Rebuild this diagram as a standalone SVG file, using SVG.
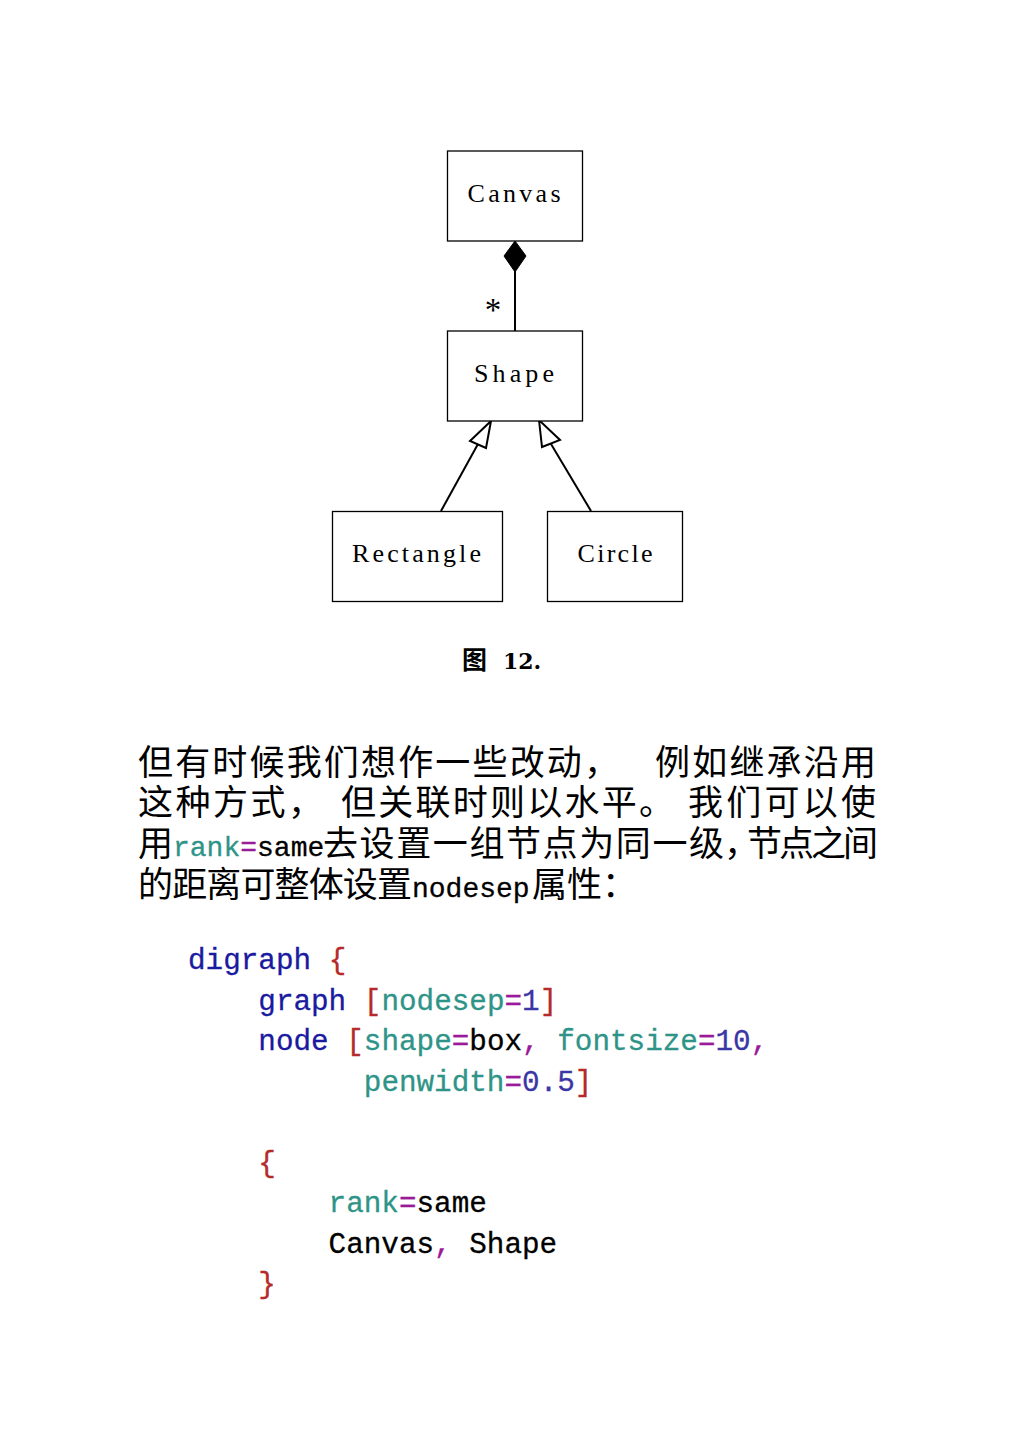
<svg xmlns="http://www.w3.org/2000/svg" width="1015" height="1440" viewBox="0 0 1015 1440">
<style>
.box{fill:#fff;stroke:#000;stroke-width:1.3}
.lbl{font-family:"Liberation Serif","Times New Roman",serif;font-size:26px;fill:#000}
.edge{stroke:#000;stroke-width:2;fill:none}
.cn{font-family:"Liberation Serif","Noto Sans CJK SC",serif;font-size:35px;fill:#000}
.pm{font-family:"Liberation Mono",monospace;font-size:28px;stroke-width:0.3;paint-order:stroke}
.code{font-family:"Liberation Mono",monospace;font-size:29.3px;stroke-width:0.3;paint-order:stroke}
.kw{fill:#1a1aa0;stroke:#1a1aa0}
.br{fill:#b52a2a;stroke:#b52a2a}
.at{fill:#2f9488;stroke:#2f9488}
.eq{fill:#9a1a9a;stroke:#9a1a9a}
.nm{fill:#3a36a6;stroke:#3a36a6}
.bk{fill:#000;stroke:#000}
</style>
<rect width="1015" height="1440" fill="#fff"/>
<g id="connectors">
  <line class="edge" x1="515" y1="271" x2="515" y2="331"/>
  <polygon points="515,241 526,256 515,272 504,256" fill="#000" stroke="#000" stroke-width="1"/>
  <text x="493" y="321" font-family="Liberation Serif,serif" font-size="33" text-anchor="middle">*</text>
  <line class="edge" x1="441" y1="511" x2="478" y2="444"/>
  <polygon points="491,421 470,441 486,448" fill="#fff" stroke="#000" stroke-width="2" stroke-linejoin="miter"/>
  <line class="edge" x1="591" y1="511" x2="551" y2="444"/>
  <polygon points="539,420 542,447 560,440" fill="#fff" stroke="#000" stroke-width="2" stroke-linejoin="miter"/>
</g>
<g id="canvas">
  <rect class="box" x="447.5" y="151" width="135" height="90"/>
  <text class="lbl" x="467.5" y="202" textLength="93" lengthAdjust="spacing">Canvas</text>
</g>
<g id="shape">
  <rect class="box" x="447.5" y="331" width="135" height="90"/>
  <text class="lbl" x="474" y="382" textLength="80" lengthAdjust="spacing">Shape</text>
</g>
<g id="rectangle">
  <rect class="box" x="332.5" y="511.5" width="170" height="90"/>
  <text class="lbl" x="352" y="562" textLength="129" lengthAdjust="spacing">Rectangle</text>
</g>
<g id="circle">
  <rect class="box" x="547.5" y="511.5" width="135" height="90"/>
  <text class="lbl" x="577.5" y="562" textLength="75" lengthAdjust="spacing">Circle</text>
</g>
<g id="caption">
  <text x="462" y="669" font-family="Noto Sans CJK SC,sans-serif" font-weight="bold" font-size="25">图</text>
  <text x="503" y="669" font-family="DejaVu Serif,serif" font-weight="bold" font-size="22">12.</text>
</g>
<g id="paragraph">
  <text class="cn" x="138" y="775" textLength="481" lengthAdjust="spacing">但有时候我们想作一些改动，</text>
  <text class="cn" x="655" y="775" textLength="221" lengthAdjust="spacing">例如继承沿用</text>
  <text class="cn" x="138" y="815" textLength="185" lengthAdjust="spacing">这种方式，</text>
  <text class="cn" x="341" y="815" textLength="333" lengthAdjust="spacing">但关联时则以水平。</text>
  <text class="cn" x="688" y="815" textLength="188" lengthAdjust="spacing">我们可以使</text>
  <text class="cn" x="138" y="856">用</text>
  <text class="pm" x="173" y="856" xml:space="preserve"><tspan fill="#2f9488" stroke="#2f9488">rank</tspan><tspan fill="#9a1a9a" stroke="#9a1a9a">=</tspan><tspan fill="#000" stroke="#000">same</tspan></text>
  <text class="cn" x="323" y="856" textLength="401" lengthAdjust="spacing">去设置一组节点为同一级</text>
  <text class="cn" x="724 747 779 811 843" y="856">，节点之间</text>
  <text class="cn" x="138" y="897" textLength="274" lengthAdjust="spacing">的距离可整体设置</text>
  <text class="pm" x="412" y="897" fill="#000" stroke="#000">nodesep</text>
  <text class="cn" x="532" y="897">属性：</text>
</g>
<g id="code">
  <text class="code" x="188" y="969" xml:space="preserve"><tspan class="kw">digraph</tspan> <tspan class="br">{</tspan></text>
  <text class="code" x="258.3" y="1010" xml:space="preserve"><tspan class="kw">graph</tspan> <tspan class="br">[</tspan><tspan class="at">nodesep</tspan><tspan class="eq">=</tspan><tspan class="nm">1</tspan><tspan class="br">]</tspan></text>
  <text class="code" x="258.3" y="1050" xml:space="preserve"><tspan class="kw">node</tspan> <tspan class="br">[</tspan><tspan class="at">shape</tspan><tspan class="eq">=</tspan><tspan class="bk">box</tspan><tspan class="eq">,</tspan> <tspan class="at">fontsize</tspan><tspan class="eq">=</tspan><tspan class="nm">10</tspan><tspan class="eq">,</tspan></text>
  <text class="code" x="363.8" y="1091" xml:space="preserve"><tspan class="at">penwidth</tspan><tspan class="eq">=</tspan><tspan class="nm">0.5</tspan><tspan class="br">]</tspan></text>
  <text class="code" x="258.3" y="1172" xml:space="preserve"><tspan class="br">{</tspan></text>
  <text class="code" x="328.6" y="1212" xml:space="preserve"><tspan class="at">rank</tspan><tspan class="eq">=</tspan><tspan class="bk">same</tspan></text>
  <text class="code" x="328.6" y="1253" xml:space="preserve"><tspan class="bk">Canvas</tspan><tspan class="eq">,</tspan> <tspan class="bk">Shape</tspan></text>
  <text class="code" x="258.3" y="1293" xml:space="preserve"><tspan class="br">}</tspan></text>
</g>
</svg>
